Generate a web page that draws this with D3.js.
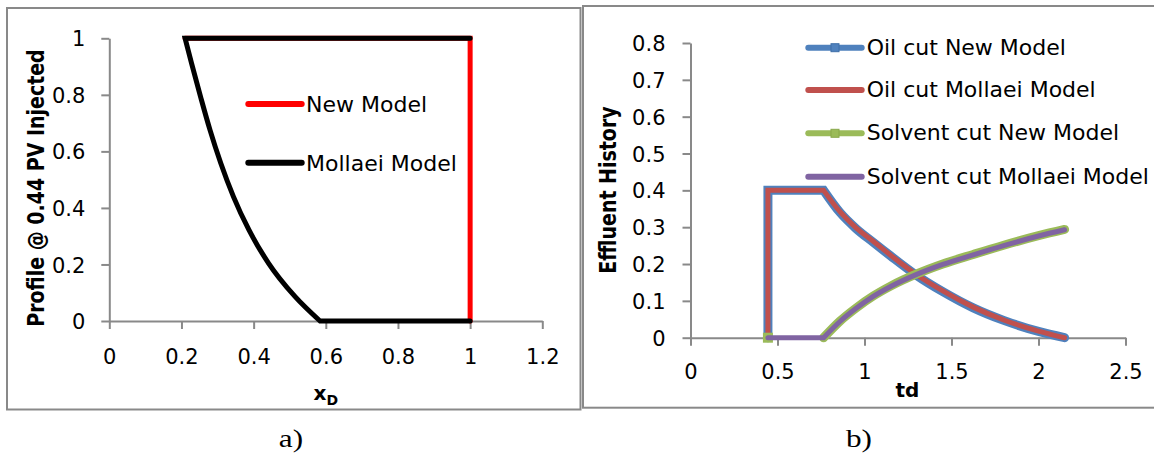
<!DOCTYPE html>
<html><head><meta charset="utf-8">
<script src="https://cdn.jsdelivr.net/npm/d3@7"></script>
<style>
html,body{margin:0;padding:0;background:#fff;}
svg{display:block;}
text{font-family:"DejaVu Sans",sans-serif;fill:#000;}
</style></head><body>
<svg id="c" width="1154" height="457"></svg>
<script>
// ---------- Panel a) : profile @ 0.44 PV injected ----------
const profileNames = ["New Model", "Mollaei Model"];
const newModelX = [0.21, 1, 1];
const newModelY = [1, 1, 0];
const mollaeiX = [1, 0.21, 0.228, 0.253, 0.279, 0.309, 0.344, 0.387, 0.441, 0.515, 0.584, 1];
const mollaeiY = [1, 1, 0.911, 0.793, 0.676, 0.558, 0.440, 0.322, 0.205, 0.086, 0, 0];
const xTicksA = [0, 0.2, 0.4, 0.6, 0.8, 1, 1.2];
const xTickLabelsA = ["0", "0.2", "0.4", "0.6", "0.8", "1", "1.2"];
const yTicksA = [0, 0.2, 0.4, 0.6, 0.8, 1];
const yTickLabelsA = ["0", "0.2", "0.4", "0.6", "0.8", "1"];

// ---------- Panel b) : effluent history ----------
const effluentNames = ["Oil cut New Model", "Oil cut Mollaei Model", "Solvent cut New Model", "Solvent cut Mollaei Model"];
const oilTd      = [0.445, 0.445, 0.765, 0.859, 0.95, 1.05, 1.15, 1.3, 1.45, 1.625, 1.8, 2.0, 2.15];
const oilNew     = [0, 0.4, 0.4, 0.340, 0.297, 0.259, 0.222, 0.169, 0.125, 0.081, 0.047, 0.017, 0];
const oilMollaei = [0, 0.4, 0.4, 0.342, 0.299, 0.262, 0.224, 0.171, 0.127, 0.083, 0.048, 0.018, 0];
const solTdNew   = [0.445, null, 0.765, 0.859, 0.95, 1.05, 1.15, 1.3, 1.45, 1.625, 1.8, 2.0, 2.15];
const solNew     = [0, null, 0, 0.045, 0.080, 0.113, 0.140, 0.173, 0.200, 0.226, 0.251, 0.277, 0.294];
const solTd      = [0.445, 0.765, 0.859, 0.95, 1.05, 1.15, 1.3, 1.45, 1.625, 1.8, 2.0, 2.15];
const solMollaei = [0, 0, 0.044, 0.079, 0.112, 0.139, 0.172, 0.199, 0.225, 0.250, 0.276, 0.293];
const xTicksB = [0, 0.5, 1, 1.5, 2, 2.5];
const xTickLabelsB = ["0", "0.5", "1", "1.5", "2", "2.5"];
const yTicksB = [0, 0.1, 0.2, 0.3, 0.4, 0.5, 0.6, 0.7, 0.8];
const yTickLabelsB = ["0", "0.1", "0.2", "0.3", "0.4", "0.5", "0.6", "0.7", "0.8"];

const svg = d3.select("#c");
const AX = "#898989";

// frames
svg.append("rect").attr("x", 7).attr("y", 8).attr("width", 573.5).attr("height", 401.5)
  .attr("fill", "none").attr("stroke", AX).attr("stroke-width", 2);
svg.append("rect").attr("x", 583).attr("y", 6).attr("width", 600).attr("height", 401.7)
  .attr("fill", "none").attr("stroke", AX).attr("stroke-width", 2);

function styleAxis(g) {
  g.select(".domain").attr("stroke", AX).attr("stroke-width", 2);
  g.selectAll(".tick line").attr("stroke", AX).attr("stroke-width", 2);
  g.selectAll(".tick text").attr("font-size", 21).attr("font-family", "DejaVu Sans").attr("fill", "#000");
}

// path helper: straight segments, smooth (monotone) between index a..b
function mixedPath(xs, ys, a, b) {
  const lin = d3.line().x(d => xs(d[0])).y(d => ys(d[1]));
  const mono = d3.line().curve(d3.curveMonotoneX).x(d => xs(d[0])).y(d => ys(d[1]));
  return function (pts) {
    let d = lin(pts.slice(0, a + 1));
    d += mono(pts.slice(a, b + 1)).replace(/^M[^A-Za-z]*/, "");
    if (b < pts.length - 1) d += lin(pts.slice(b)).replace(/^M[^A-Za-z]*/, "");
    return d;
  };
}

// ----- Panel a -----
const xA = d3.scaleLinear().domain([0, 1.2]).range([109.3, 542.3]);
const yA = d3.scaleLinear().domain([0, 1]).range([321, 38.3]);

svg.append("g").attr("transform", `translate(0,${yA(0)})`)
  .call(d3.axisBottom(xA).tickValues(xTicksA).tickFormat((d, i) => xTickLabelsA[i]).tickSize(8).tickSizeOuter(0))
  .call(styleAxis)
  .call(g => g.selectAll(".tick text").attr("y", 35.7).attr("dy", "0.36em"));
svg.append("g").attr("transform", `translate(${xA(0)},0)`)
  .call(d3.axisLeft(yA).tickValues(yTicksA).tickFormat((d, i) => yTickLabelsA[i]).tickSize(8).tickPadding(16).tickSizeOuter(0))
  .call(styleAxis)
  .call(g => g.selectAll(".tick text").attr("dy", "0.36em"));

const seriesA = [
  { name: profileNames[0], pts: d3.zip(newModelX, newModelY), color: "#FF0000", gen: d3.line().x(d => xA(d[0])).y(d => yA(d[1])) },
  { name: profileNames[1], pts: d3.zip(mollaeiX, mollaeiY), color: "#000000", gen: mixedPath(xA, yA, 1, mollaeiX.length - 2) }
];
seriesA.forEach(s => {
  svg.append("path").attr("d", s.gen(s.pts)).attr("fill", "none").attr("stroke", s.color)
    .attr("stroke-width", 5).attr("stroke-linecap", "round").attr("stroke-linejoin", "miter");
});
// legend a
const legA = [104, 162.7];
seriesA.forEach((s, i) => {
  svg.append("line").attr("x1", 248.3).attr("x2", 301.7).attr("y1", legA[i]).attr("y2", legA[i])
    .attr("stroke", s.color).attr("stroke-width", 6).attr("stroke-linecap", "round");
  svg.append("text").attr("x", 306).attr("y", legA[i] + 8).attr("font-size", 22).text(s.name);
});
// axis titles a
svg.append("text").attr("transform", "translate(44,188) rotate(-90) scale(1,1.18)").attr("text-anchor", "middle")
  .attr("font-size", 19).attr("font-weight", "bold").text("Profile @ 0.44 PV Injected");
const xd = svg.append("text").attr("x", 313.5).attr("y", 400).attr("font-weight", "bold");
xd.append("tspan").attr("font-size", 20).text("x");
xd.append("tspan").attr("font-size", 14).attr("dy", 5).text("D");

// ----- Panel b -----
const xB = d3.scaleLinear().domain([0, 2.5]).range([690.5, 1125.5]);
const yB = d3.scaleLinear().domain([0, 0.8]).range([337.7, 43]);

svg.append("g").attr("transform", `translate(0,${yB(0)})`)
  .call(d3.axisBottom(xB).tickValues(xTicksB).tickFormat((d, i) => xTickLabelsB[i]).tickSize(8).tickSizeOuter(0))
  .call(styleAxis)
  .call(g => g.selectAll(".tick text").attr("y", 34).attr("dy", "0.36em"));
svg.append("g").attr("transform", `translate(${xB(0)},0)`)
  .call(d3.axisLeft(yB).tickValues(yTicksB).tickFormat((d, i) => yTickLabelsB[i]).tickSize(8).tickPadding(17).tickSizeOuter(0))
  .call(styleAxis)
  .call(g => g.selectAll(".tick text").attr("dy", "0.36em"));

const seriesB = [
  { name: effluentNames[0], td: oilTd, v: oilNew, color: "#4F81BD", w: 9, marker: "#3F6FA8" },
  { name: effluentNames[1], td: oilTd, v: oilMollaei, color: "#C0504D", w: 5 },
  { name: effluentNames[2], td: solTdNew, v: solNew, color: "#9BBB59", w: 9, marker: "#89A84B" },
  { name: effluentNames[3], td: solTd, v: solMollaei, color: "#8064A2", w: 5 }
];
const ok = q => q && q[0] != null && q[1] != null;
seriesB.forEach(s => {
  const all = d3.zip(s.td, s.v);
  const runs = [];
  let cur = [];
  all.forEach(p => { if (ok(p)) cur.push(p); else { if (cur.length) runs.push(cur); cur = []; } });
  if (cur.length) runs.push(cur);
  runs.forEach(run => {
    if (run.length === 1) {
      svg.append("rect").attr("x", xB(run[0][0]) - 5).attr("y", yB(run[0][1]) - 5).attr("width", 10).attr("height", 10)
        .attr("fill", s.color);
      return;
    }
    let a = 0;
    for (let i = 1; i < run.length; i++) if (run[i][1] === run[i - 1][1] || run[i][0] === run[i - 1][0]) a = i;
    const gen = mixedPath(xB, yB, a, run.length - 1);
    svg.append("path").attr("d", gen(run)).attr("fill", "none").attr("stroke", s.color)
      .attr("stroke-width", s.w).attr("stroke-linecap", "round").attr("stroke-linejoin", "miter");
  });
});
// legend b
const legB = [47.7, 90, 133.3, 176.7];
seriesB.forEach((s, i) => {
  svg.append("line").attr("x1", 808.3).attr("x2", 861.7).attr("y1", legB[i]).attr("y2", legB[i])
    .attr("stroke", s.color).attr("stroke-width", 6).attr("stroke-linecap", "round");
  if (s.marker) {
    svg.append("rect").attr("x", 831).attr("y", legB[i] - 4).attr("width", 8).attr("height", 8)
      .attr("fill", s.color).attr("stroke", s.marker).attr("stroke-width", 1);
  }
  svg.append("text").attr("x", 866.7).attr("y", legB[i] + 7).attr("font-size", 22).text(s.name);
});
// axis titles b
svg.append("text").attr("transform", "translate(616,190) rotate(-90) scale(1,1.18)").attr("text-anchor", "middle")
  .attr("font-size", 19).attr("font-weight", "bold").text("Effluent History");
svg.append("text").attr("x", 907.5).attr("y", 396.7).attr("text-anchor", "middle")
  .attr("font-size", 20).attr("font-weight", "bold").text("td");

// captions
const captions = [["a)", 291], ["b)", 859]];
captions.forEach(c => {
  svg.append("text").attr("transform", `translate(${c[1]},447) scale(1.25,1)`).attr("text-anchor", "middle")
    .style("font-family", "'Liberation Serif', serif").attr("font-size", 25).text(c[0]);
});
</script>
</body></html>
